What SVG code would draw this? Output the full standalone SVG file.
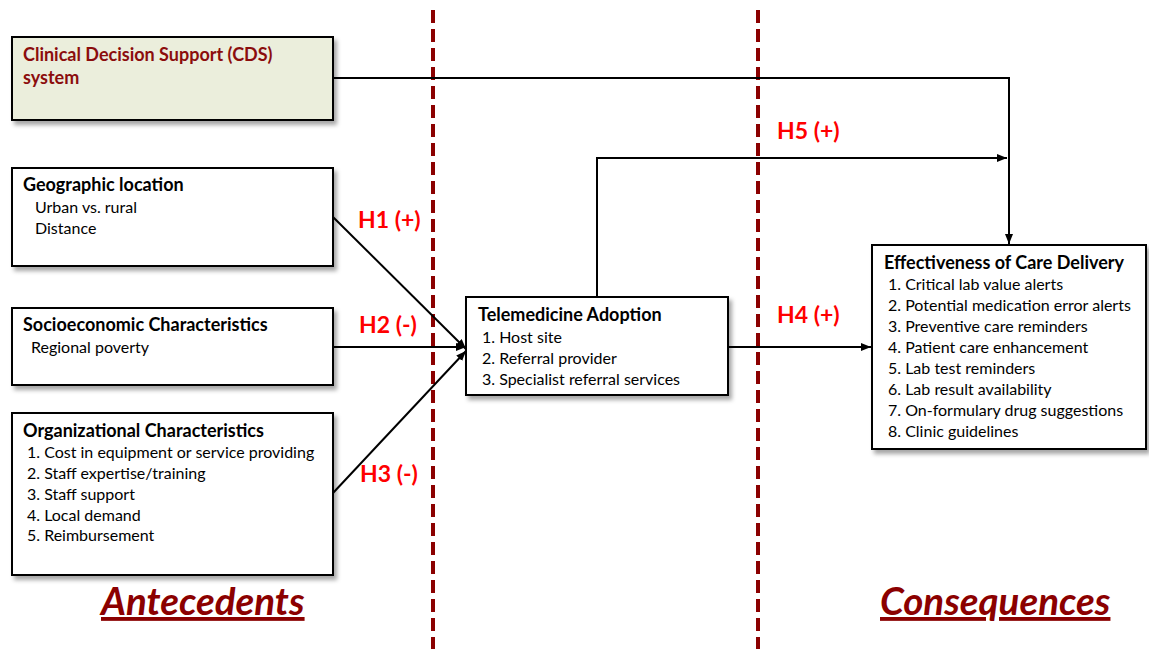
<svg xmlns="http://www.w3.org/2000/svg" width="1149" height="649" viewBox="0 0 1149 649">
<defs>
<filter id="sh" x="-5%" y="-5%" width="115%" height="125%">
<feDropShadow dx="3" dy="4" stdDeviation="2" flood-color="#000" flood-opacity="0.35"/>
</filter>
<marker id="ah" markerWidth="10" markerHeight="8" refX="10" refY="4" orient="auto" markerUnits="userSpaceOnUse">
<path d="M0,0 L10,4 L0,8 Z" fill="#000"/>
</marker>
</defs>
<style>
.box{fill:#fff;stroke:#000;stroke-width:2;filter:url(#sh)}
.cds{fill:#ebeedc}
.t{font-family:Lato,"Liberation Sans",sans-serif;font-size:18px;font-weight:bold;fill:#000}
.i{font-family:Lato,"Liberation Sans",sans-serif;font-size:16px;fill:#000}
.red{fill:#8b0d0d}
.h{font-family:Lato,"Liberation Sans",sans-serif;font-size:23px;font-weight:bold;fill:#ff0000}
.big{font-family:Lato,"Liberation Sans",sans-serif;font-size:38.5px;font-weight:bold;font-style:italic;fill:#8b0000;text-decoration:underline}
.c{fill:none;stroke:#000;stroke-width:2}
.dash{stroke:#8b0000;stroke-width:4;stroke-dasharray:13 6;fill:none}
</style>
<g id="dividers">
<line class="dash" x1="433" y1="10" x2="433" y2="649"/>
<line class="dash" x1="758" y1="10" x2="758" y2="649"/>
</g>
<g id="connectors">
<polyline class="c" points="333,78 1009,78 1009,244" marker-end="url(#ah)"/>
<polyline class="c" points="597,297 597,158 1007,158" marker-end="url(#ah)"/>
<line class="c" x1="333" y1="217" x2="466" y2="349" marker-end="url(#ah)"/>
<line class="c" x1="333" y1="347" x2="466" y2="347" marker-end="url(#ah)"/>
<line class="c" x1="333" y1="493" x2="466" y2="351" marker-end="url(#ah)"/>
<line class="c" x1="728" y1="347" x2="871" y2="347" marker-end="url(#ah)"/>
</g>
<g id="cds">
<rect class="box cds" x="12" y="37" width="321" height="83"/>
<text class="t red" x="23" y="61">Clinical Decision Support (CDS)</text>
<text class="t red" x="23" y="84">system</text>
</g>
<g id="geo">
<rect class="box" x="12" y="168" width="321" height="98"/>
<text class="t" x="23" y="191">Geographic location</text>
<text class="i" x="35" y="213">Urban vs. rural</text>
<text class="i" x="35" y="234">Distance</text>
</g>
<g id="socio">
<rect class="box" x="12" y="308" width="321" height="77"/>
<text class="t" x="23" y="331">Socioeconomic  Characteristics</text>
<text class="i" x="31" y="353">Regional poverty</text>
</g>
<g id="org">
<rect class="box" x="12" y="413" width="321" height="162"/>
<text class="t" x="23" y="437">Organizational  Characteristics</text>
<text class="i" x="27" y="458">1. Cost in equipment or service providing</text>
<text class="i" x="27" y="479">2. Staff expertise/training</text>
<text class="i" x="27" y="500">3. Staff support</text>
<text class="i" x="27" y="521">4. Local demand</text>
<text class="i" x="27" y="541">5. Reimbursement</text>
</g>
<g id="tele">
<rect class="box" x="466" y="297" width="262" height="98"/>
<text class="t" x="478" y="321">Telemedicine Adoption</text>
<text class="i" x="482" y="343">1. Host site</text>
<text class="i" x="482" y="364">2. Referral provider</text>
<text class="i" x="482" y="385">3. Specialist referral services</text>
</g>
<g id="eff">
<rect class="box" x="872" y="245" width="274" height="204"/>
<text class="t" x="884" y="269">Effectiveness of Care Delivery</text>
<text class="i" x="888" y="290">1. Critical lab value alerts</text>
<text class="i" x="888" y="311">2. Potential medication error alerts</text>
<text class="i" x="888" y="332">3. Preventive care reminders</text>
<text class="i" x="888" y="353">4. Patient care enhancement</text>
<text class="i" x="888" y="374">5. Lab test  reminders</text>
<text class="i" x="888" y="395">6. Lab result availability</text>
<text class="i" x="888" y="416">7. On-formulary drug suggestions</text>
<text class="i" x="888" y="437">8. Clinic guidelines</text>
</g>
<g id="labels">
<text class="h" x="358" y="228">H1 (+)</text>
<text class="h" x="359" y="333">H2 (-)</text>
<text class="h" x="360" y="482">H3 (-)</text>
<text class="h" x="777" y="139">H5 (+)</text>
<text class="h" x="777" y="323">H4 (+)</text>
<text class="big" x="101" y="615">Antecedents</text>
<text class="big" x="880" y="615">Consequences</text>
</g>
</svg>
